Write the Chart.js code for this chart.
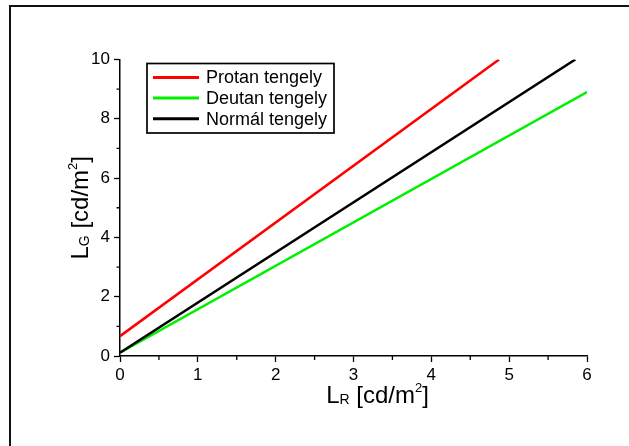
<!DOCTYPE html>
<html>
<head>
<meta charset="utf-8">
<title>Protan, deutan, normál tengely</title>
<script src="https://cdn.jsdelivr.net/npm/chart.js@4.4.1/dist/chart.umd.min.js"></script>
<style>
  html, body { margin: 0; padding: 0; background: #fff; }
  #wrap { width: 629px; height: 446px; }
</style>
</head>
<body>
<div id="wrap"><canvas id="myChart" width="629" height="446"></canvas></div>
<script>
// values (L_R -> L_G, straight lines)
const seriesNames = ['Protan tengely', 'Deutan tengely', 'Normál tengely'];
const protanX = [0, 4.87];
const protanY = [0.67, 10];
const deutanX = [0, 6];
const deutanY = [0.11, 8.9];
const normalX = [0, 5.85];
const normalY = [0.11, 10];
const xTicks = [0, 1, 2, 3, 4, 5, 6];
const yTicks = [0, 2, 4, 6, 8, 10];

const FONT = '"Liberation Sans", Arial, Helvetica, sans-serif';

function toPoints(xs, ys) {
    return xs.map((x, i) => ({ x: x, y: ys[i] }));
}

// minor ticks, legend box, axis titles with sub/superscripts, outer frame
const extras = {
    id: 'extras',
    afterDraw(chart) {
        const ctx = chart.ctx;
        const xs = chart.scales.x;
        const ys = chart.scales.y;
        ctx.save();

        // outer frame (only left and top edges fall inside the picture)
        ctx.strokeStyle = '#111';
        ctx.lineWidth = 2;
        ctx.strokeRect(10, 6, 800, 600);

        // minor ticks
        ctx.strokeStyle = '#000';
        ctx.lineWidth = 1.3;
        ctx.beginPath();
        for (let v = 0.5; v < 6; v += 1) {
            const px = xs.getPixelForValue(v);
            ctx.moveTo(px, xs.top);
            ctx.lineTo(px, xs.top + 4);
        }
        for (let v = 1; v < 10; v += 2) {
            const py = ys.getPixelForValue(v);
            ctx.moveTo(ys.right, py);
            ctx.lineTo(ys.right - 3.5, py);
        }
        ctx.stroke();

        // legend
        ctx.lineWidth = 1.7;
        ctx.strokeRect(147, 63.5, 187, 69.5);
        ctx.font = '18px ' + FONT;
        ctx.textBaseline = 'middle';
        ctx.fillStyle = '#000';
        const legendOrder = [0, 1, 2];
        legendOrder.forEach((di, row) => {
            const ds = chart.data.datasets[di];
            const y = 77.5 + row * 20.6;
            ctx.strokeStyle = ds.borderColor;
            ctx.lineWidth = 3;
            ctx.beginPath();
            ctx.moveTo(153, y);
            ctx.lineTo(199, y);
            ctx.stroke();
            ctx.fillText(ds.label, 206, y + 1);
        });

        // axis titles
        function drawTitle(main, sub, rest, sup, close, cx, baseline) {
            const big = '24px ' + FONT;
            const small = '14px ' + FONT;
            const tiny = '13px ' + FONT;
            ctx.font = big;
            const w1 = ctx.measureText(main).width;
            const w3 = ctx.measureText(rest).width;
            const w5 = ctx.measureText(close).width;
            ctx.font = small;
            const w2 = ctx.measureText(sub).width;
            ctx.font = tiny;
            const w4 = ctx.measureText(sup).width;
            let x = cx - (w1 + w2 + w3 + w4 + w5) / 2;
            ctx.textBaseline = 'alphabetic';
            ctx.textAlign = 'left';
            ctx.font = big;  ctx.fillText(main, x, baseline); x += w1;
            ctx.font = small; ctx.fillText(sub, x, baseline + 1); x += w2;
            ctx.font = big;  ctx.fillText(rest, x, baseline); x += w3;
            ctx.font = tiny; ctx.fillText(sup, x, baseline - 11); x += w4;
            ctx.font = big;  ctx.fillText(close, x, baseline);
        }
        ctx.fillStyle = '#000';
        drawTitle('L', 'R', ' [cd/m', '2', ']', 377.5, 403);

        ctx.translate(88, (ys.top + ys.bottom) / 2);
        ctx.rotate(-Math.PI / 2);
        drawTitle('L', 'G', ' [cd/m', '2', ']', 0, 0);
        ctx.restore();
    }
};

document.addEventListener('DOMContentLoaded', function () {
    const ctx = document.getElementById('myChart');

    new Chart(ctx, {
        type: 'scatter',
        data: {
            datasets: [{
                label: seriesNames[0],
                data: toPoints(protanX, protanY),
                borderColor: '#ff0000',
                order: 0
            }, {
                label: seriesNames[1],
                data: toPoints(deutanX, deutanY),
                borderColor: '#00f000',
                order: 1
            }, {
                label: seriesNames[2],
                data: toPoints(normalX, normalY),
                borderColor: '#000000',
                order: 0
            }]
        },
        options: {
            responsive: false,
            animation: false,
            devicePixelRatio: 1,
            showLine: true,
            elements: {
                point: { radius: 0, hoverRadius: 0 },
                line: { borderWidth: 2.5, tension: 0 }
            },
            layout: {
                padding: { top: 59.5, right: 42, left: 0, bottom: 0 }
            },
            plugins: {
                legend: { display: false },
                tooltip: { enabled: false }
            },
            scales: {
                x: {
                    type: 'linear',
                    min: 0,
                    max: 6,
                    afterFit: function (scale) { scale.height = 90; },
                    afterBuildTicks: function (scale) {
                        scale.ticks = xTicks.map(v => ({ value: v }));
                    },
                    border: { display: true, color: '#000', width: 1.5 },
                    grid: {
                        drawOnChartArea: false,
                        drawTicks: true,
                        tickLength: 6,
                        tickColor: '#000',
                        tickWidth: 1.3
                    },
                    ticks: {
                        color: '#000',
                        padding: 3,
                        maxRotation: 0,
                        font: { family: FONT, size: 17 }
                    }
                },
                y: {
                    type: 'linear',
                    min: 0,
                    max: 10,
                    afterFit: function (scale) { scale.width = 120; },
                    afterBuildTicks: function (scale) {
                        scale.ticks = yTicks.map(v => ({ value: v }));
                    },
                    border: { display: true, color: '#000', width: 1.5 },
                    grid: {
                        drawOnChartArea: false,
                        drawTicks: true,
                        tickLength: 6,
                        tickColor: '#000',
                        tickWidth: 1.3
                    },
                    ticks: {
                        color: '#000',
                        padding: 4,
                        font: { family: FONT, size: 17 }
                    }
                }
            }
        },
        plugins: [extras]
    });
});
</script>
</body>
</html>
